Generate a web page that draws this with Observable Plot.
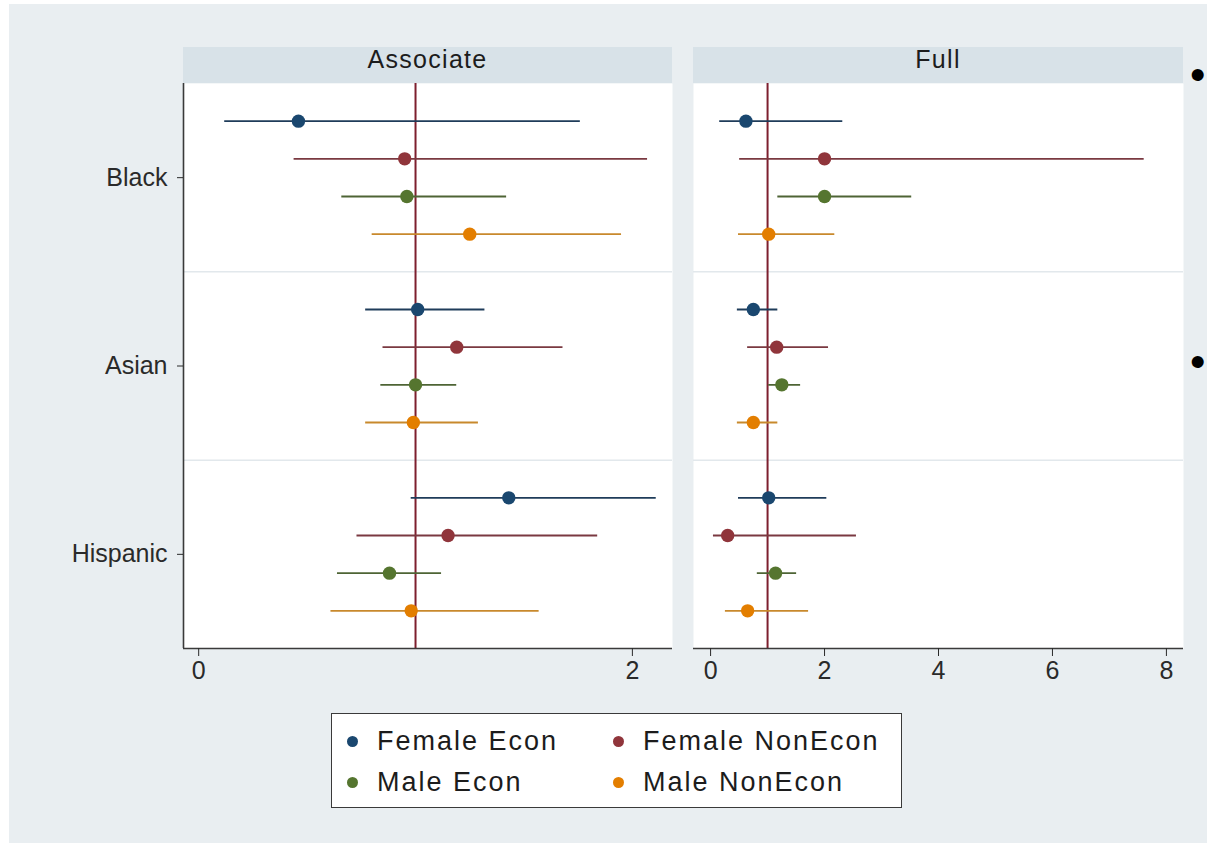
<!DOCTYPE html>
<html>
<head>
<meta charset="utf-8">
<script src="https://cdn.jsdelivr.net/npm/d3@7"></script>
<script src="https://cdn.jsdelivr.net/npm/@observablehq/plot@0.6"></script>
<style>
  html, body { margin: 0; padding: 0; background: #ffffff; }
  #page { position: relative; width: 1207px; height: 843px; overflow: hidden;
          font-family: "Liberation Sans", Arial, sans-serif; color: #1c1c1c; }
  #bg { position: absolute; left: 9px; top: 4px; right: 0; bottom: 0; background: #e9eef1; }
  .strip { position: absolute; top: 47px; height: 36px; background: #d8e2e8;
           text-align: center; font-size: 25px; line-height: 25px; letter-spacing: 1.3px; }
  .panel { position: absolute; top: 83px; }
  .panel svg { overflow: visible; }
  #legendBox { position: absolute; left: 331px; top: 713px; width: 571px; height: 95px;
               box-sizing: border-box; background: #ffffff; border: 1.5px solid #3a3a3a; }
  .lg { position: absolute; font-size: 27px; line-height: 27px; letter-spacing: 2px; white-space: nowrap; }
  .lgdot { position: absolute; width: 11px; height: 11px; border-radius: 50%; }
  .bullet { position: absolute; font-size: 44px; line-height: 44px; color: #000; }
</style>
</head>
<body>
<div id="page">
  <div id="bg"></div>
</div>
<script>
// ---------------- data ----------------
const groups = ["Black", "Asian", "Hispanic"];
const series = ["Female Econ", "Female NonEcon", "Male Econ", "Male NonEcon"];
const panels = ["Associate", "Full"];
const refValue = 1;

// Associate: [group][series]
const assocEst = [
  [0.46, 0.95, 0.96, 1.25],
  [1.01, 1.19, 1.00, 0.99],
  [1.43, 1.15, 0.88, 0.98]
];
const assocLo = [
  [0.12, 0.44, 0.66, 0.80],
  [0.77, 0.85, 0.84, 0.77],
  [0.98, 0.73, 0.64, 0.61]
];
const assocHi = [
  [1.76, 2.07, 1.42, 1.95],
  [1.32, 1.68, 1.19, 1.29],
  [2.11, 1.84, 1.12, 1.57]
];

// Full: [group][series]
const fullEst = [
  [0.62, 2.00, 2.00, 1.02],
  [0.75, 1.16, 1.25, 0.75],
  [1.02, 0.30, 1.14, 0.65]
];
const fullLo = [
  [0.16, 0.51, 1.18, 0.49],
  [0.47, 0.65, 1.02, 0.47],
  [0.49, 0.05, 0.82, 0.26]
];
const fullHi = [
  [2.32, 7.61, 3.53, 2.18],
  [1.18, 2.07, 1.58, 1.18],
  [2.04, 2.56, 1.51, 1.72]
];

const assocTicks = [0, 2];
const fullTicks = [0, 2, 4, 6, 8];

// ---------------- styles ----------------
const dotColors = ["#1a476f", "#90353b", "#55752f", "#e37e00"];
const lineColors = ["#1f3c5a", "#7a3941", "#4e6435", "#c8892c"];

// ---------------- build ----------------
const page = document.getElementById("page");

function buildRows(est, lo, hi) {
  const rows = [];
  groups.forEach((g, gi) => series.forEach((s, si) => {
    rows.push({group: g, series: s, slot: gi * 5 + si + 1,
               est: est[gi][si], lo: lo[gi][si], hi: hi[gi][si]});
  }));
  return rows;
}

const nSlots = groups.length * 5;
const groupTicks = groups.map((g, i) => i * 5 + 2.5);
const separators = groups.slice(1).map((g, i) => (i + 1) * 5);

function panel({rows, domain, ticks, width, marginLeft, showY}) {
  const marks = [
    Plot.frame({fill: "white", stroke: "none"}),
    Plot.ruleY(separators, {stroke: "#e2e8ec", strokeWidth: 1.5}),
    Plot.ruleX([refValue], {stroke: "#7d1f2e", strokeWidth: 2}),
    ...series.map((s, i) => Plot.ruleY(rows.filter(r => r.series === s),
        {y: "slot", x1: "lo", x2: "hi", stroke: lineColors[i], strokeWidth: 1.9})),
    Plot.dot(rows, {x: "est", y: "slot", r: 6.7, fill: "series"}),
    Plot.ruleY([nSlots], {stroke: "#3a3a3a", strokeWidth: 1.6}),
    Plot.axisX({ticks, tickSize: 8, tickPadding: 5, tickFormat: d => String(d), label: null})
  ];
  if (showY) {
    marks.push(Plot.ruleX([domain[0]], {stroke: "#3a3a3a", strokeWidth: 1.6}));
    marks.push(Plot.axisY({ticks: groupTicks, tickFormat: d => groups[Math.round((d - 2.5) / 5)],
                           tickSize: 6, tickPadding: 10, label: null}));
  }
  return Plot.plot({
    width, height: 620,
    marginLeft, marginRight: 0, marginTop: 0, marginBottom: 55,
    style: {background: "transparent", fontFamily: "'Liberation Sans', Arial, sans-serif",
            fontSize: "25px", color: "#2a2a2a", overflow: "visible"},
    x: {domain, label: null},
    y: {domain: [0, nSlots], reverse: true, label: null, axis: showY ? undefined : null},
    color: {domain: series, range: dotColors},
    marks
  });
}

const specs = [
  {name: panels[0], rows: buildRows(assocEst, assocLo, assocHi), domain: [-0.07, 2.185],
   ticks: assocTicks, left: 40, width: 632, marginLeft: 143, showY: true, stripLeft: 183},
  {name: panels[1], rows: buildRows(fullEst, fullLo, fullHi), domain: [-0.3, 8.3],
   ticks: fullTicks, left: 693, width: 490, marginLeft: 0, showY: false, stripLeft: 693}
];

specs.forEach(sp => {
  const strip = document.createElement("div");
  strip.className = "strip";
  strip.style.left = sp.stripLeft + "px";
  strip.style.width = (sp.left + sp.width - sp.stripLeft) + "px";
  strip.textContent = sp.name;
  page.appendChild(strip);

  const holder = document.createElement("div");
  holder.className = "panel";
  holder.style.left = sp.left + "px";
  holder.appendChild(panel(sp));
  page.appendChild(holder);
});

// legend
const box = document.createElement("div");
box.id = "legendBox";
page.appendChild(box);
const legendPos = [[352, 741], [618, 741], [352, 782], [618, 782]];
series.forEach((s, i) => {
  const [cx, cy] = legendPos[i];
  const dot = document.createElement("div");
  dot.className = "lgdot";
  dot.style.background = dotColors[i];
  dot.style.left = (cx - 5.5) + "px";
  dot.style.top = (cy - 5.5) + "px";
  page.appendChild(dot);
  const t = document.createElement("div");
  t.className = "lg";
  t.style.left = (cx + 25) + "px";
  t.style.top = (cy - 13.2) + "px";
  t.textContent = s;
  page.appendChild(t);
});

// slide bullets at the right edge
[[1190, 53], [1190, 340]].forEach(([x, y]) => {
  const b = document.createElement("div");
  b.className = "bullet";
  b.style.left = x + "px";
  b.style.top = y + "px";
  b.textContent = "•";
  page.appendChild(b);
});
</script>
</body>
</html>
